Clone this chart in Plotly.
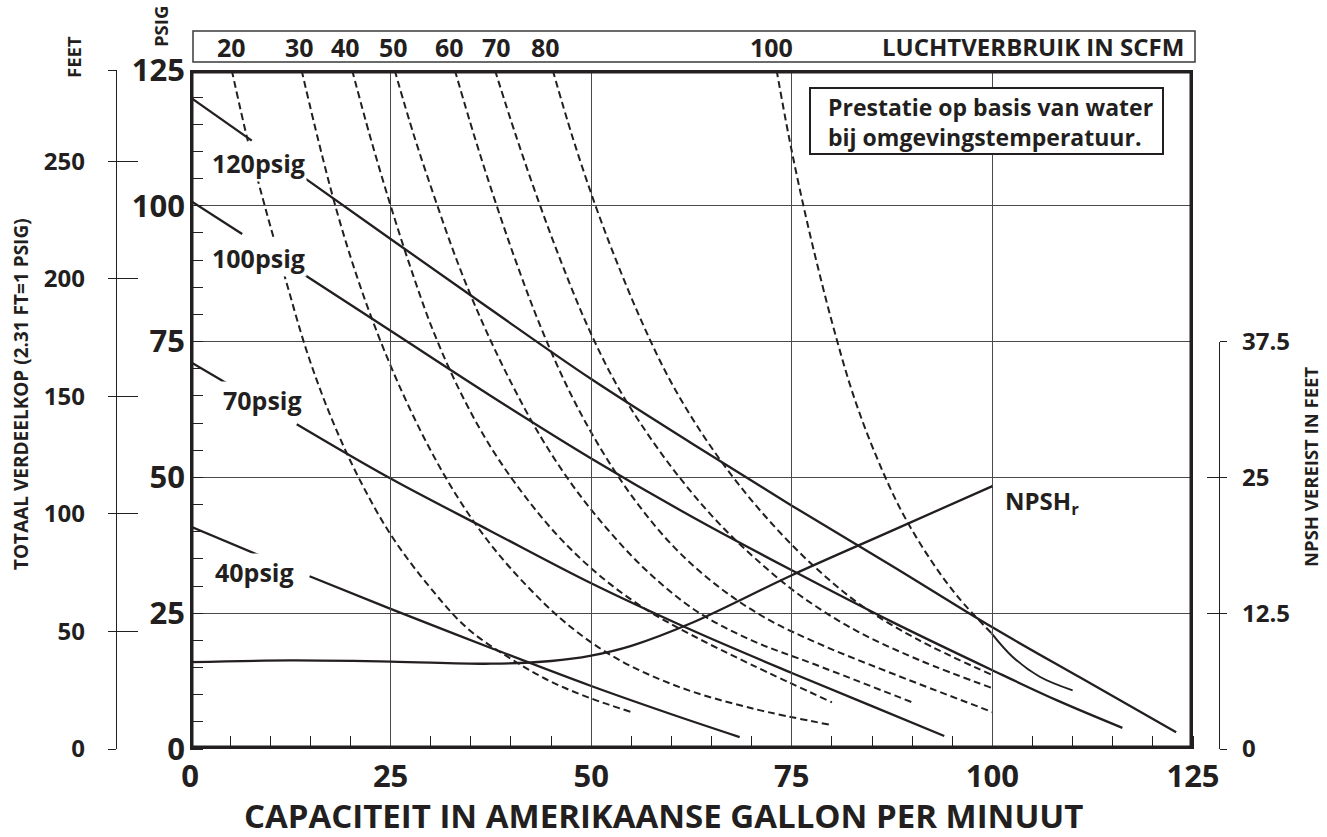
import plotly.graph_objects as go

# ---------------- data ----------------
# Air consumption curves (SCFM), dashed: capacity (GPM) vs head (PSIG)
scfm20_x = [5.2, 7.2, 9.5, 12.0, 14.6, 17.6, 21.0, 25.0, 29.5, 34.5, 40.0, 45.0, 50.0, 55.0]
scfm20_y = [125, 112, 99, 86, 73, 61, 50, 39.5, 30.5, 22.3, 16.6, 12.4, 9.3, 6.8]
scfm30_x = [13.9, 16.0, 18.3, 20.8, 23.5, 26.5, 29.8, 33.5, 37.5, 42.0, 47.0, 53.0, 61.0, 70.0, 80.0]
scfm30_y = [125, 112, 99, 87, 76, 65.5, 55.5, 46, 37.6, 30.0, 23.0, 16.8, 11.4, 7.5, 4.4]
scfm40_x = [20.2, 22.4, 24.8, 27.4, 30.3, 33.6, 37.3, 41.5, 46.0, 51.0, 56.5, 62.5, 70.0, 80.0]
scfm40_y = [125, 113, 101, 89, 77, 66, 56, 47, 39, 32, 26, 21, 15.5, 8.6]
scfm50_x = [25.5, 27.9, 30.6, 33.5, 36.6, 40.0, 43.7, 47.7, 52.0, 57.0, 63.0, 70.0, 78.0, 90.0]
scfm50_y = [125, 113, 101, 89, 78, 67.5, 57.5, 48.5, 40.5, 32.7, 25.5, 20.0, 15.5, 8.6]
scfm60_x = [33.0, 35.4, 38.0, 40.8, 43.9, 47.4, 51.3, 55.6, 60.3, 65.5, 71.5, 78.5, 87.0, 100.0]
scfm60_y = [125, 113, 101, 89, 77, 65.5, 55, 45.5, 37.2, 30.3, 24.3, 19.3, 14.2, 6.8]
scfm70_x = [38.0, 40.6, 43.4, 46.3, 49.5, 53.0, 56.8, 61.0, 65.5, 70.5, 76.0, 83.0, 91.0, 100.0]
scfm70_y = [125, 113, 101, 89.5, 78, 67.5, 58.5, 50, 42.2, 35, 28.3, 21.8, 16.3, 11.2]
scfm80_x = [45.2, 47.6, 50.3, 53.1, 56.2, 59.6, 63.4, 67.6, 72.2, 77.5, 83.6, 90.5, 100.0]
scfm80_y = [125, 113, 101, 90, 79, 68.5, 59, 50.2, 42, 34, 26.5, 20.3, 13.6]
scfm100_x = [73.1, 74.6, 76.3, 78.2, 80.3, 82.7, 85.5, 88.6, 92.0, 95.7, 99.9]
scfm100_y = [125, 113, 101, 89, 77, 65, 54, 44, 35.5, 28, 21.3]
scfm100_tail_x = [99.9, 102.5, 105.9, 110.0]
scfm100_tail_y = [21.3, 17.0, 13.3, 10.8]

# top-box labels and their positions along capacity axis
scfm_labels = ["20", "30", "40", "50", "60", "70", "80", "100"]
scfm_label_x = [5.2, 13.7, 19.4, 25.4, 32.3, 38.2, 44.3, 72.5]

# Pump curves at inlet air pressure (solid); None = gap behind label
psig120_x = [0, 7.7, None, 13.9, 25, 37.5, 50, 62.5, 75, 87.5, 100, 111, 122.9]
psig120_y = [120, 112.0, None, 105.5, 93.9, 80.9, 68.1, 56.3, 44.8, 33.7, 22.4, 13.1, 3.1]
psig100_x = [0, 6.5, None, 13.1, 25, 37.5, 50, 62.5, 75, 87.5, 100, 108, 116.2]
psig100_y = [101, 94.8, None, 88.4, 77.0, 65.0, 53.5, 42.8, 32.9, 23.4, 14.5, 9.0, 3.9]
psig70_x = [0, 6.0, None, 13.3, 25, 37.5, 50, 62.5, 75, 85, 94]
psig70_y = [71.3, 66.1, None, 59.8, 49.8, 40.1, 30.5, 21.9, 14.0, 7.9, 2.4]
psig40_x = [0, 8.7, None, 14.9, 25, 37.5, 50, 60, 68.5]
psig40_y = [41.0, 35.6, None, 31.8, 25.8, 18.6, 11.6, 6.4, 2.2]
psig_labels = ["120psig", "100psig", "70psig", "40psig"]
psig_label_x = [8.5, 8.5, 9.0, 8.1]
psig_label_y = [107.9, 90.4, 64.2, 32.5]

# NPSH required (feet)
npsh_x = [0, 12.5, 25, 37.5, 45, 50, 55, 62.5, 75, 87.5, 100]
npsh_y = [8.0, 8.15, 8.05, 7.85, 8.1, 8.6, 9.5, 11.6, 16.0, 20.1, 24.2]

# axis ticks
x_ticks = [0, 25, 50, 75, 100, 125]
psig_ticks = [0, 25, 50, 75, 100, 125]
feet_ticks = [0, 50, 100, 150, 200, 250]
feet_top = [288.75]
npsh_ticks = [0, 12.5, 25, 37.5]
npsh_ticktext = ["0", "12.5", "25", "37.5"]

# ---------------- styling / layout helpers ----------------
W, H = 1327, 837
ML, MR, MT, MB = 40, 40, 70, 88
PW = W - ML - MR
PH = H - MT - MB
INK = "#231f20"
GRID = "#4a4a4a"
FONT = "Open Sans"


def pxx(x):
    return (x - ML) / PW


def pxy(y):
    return (H - MB - y) / PH


def f(size, weight="bold"):
    return dict(family=FONT, size=size, color=INK, weight=weight)


fig = go.Figure()

dash_curves = [
    (scfm20_x, scfm20_y), (scfm30_x, scfm30_y), (scfm40_x, scfm40_y), (scfm50_x, scfm50_y),
    (scfm60_x, scfm60_y), (scfm70_x, scfm70_y), (scfm80_x, scfm80_y), (scfm100_x, scfm100_y),
]
for cx, cy in dash_curves:
    fig.add_trace(go.Scatter(x=cx, y=cy, mode="lines", xaxis="x", yaxis="y",
                             line=dict(color=INK, width=2, dash="7px,4px", shape="spline", smoothing=1.0),
                             hoverinfo="skip", showlegend=False))

fig.add_trace(go.Scatter(x=scfm100_tail_x, y=scfm100_tail_y, mode="lines",
                         line=dict(color=INK, width=2, shape="spline", smoothing=1.0),
                         hoverinfo="skip", showlegend=False))

for cx, cy in [(psig120_x, psig120_y), (psig100_x, psig100_y), (psig70_x, psig70_y), (psig40_x, psig40_y)]:
    fig.add_trace(go.Scatter(x=cx, y=cy, mode="lines", connectgaps=False,
                             line=dict(color=INK, width=2.3, shape="spline", smoothing=1.0),
                             hoverinfo="skip", showlegend=False))

fig.add_trace(go.Scatter(x=npsh_x, y=npsh_y, mode="lines", xaxis="x", yaxis="y3",
                         line=dict(color=INK, width=2.3, shape="spline", smoothing=1.0),
                         hoverinfo="skip", showlegend=False))

annotations = []
for t, lx, ly in zip(psig_labels, psig_label_x, psig_label_y):
    annotations.append(dict(text=t, x=lx, y=ly, xref="x", yref="y", showarrow=False,
                            xanchor="center", yanchor="middle",
                            font=f(25), bgcolor="white", borderpad=1))

for t, lx in zip(scfm_labels, scfm_label_x):
    annotations.append(dict(text=t, x=lx, y=pxy(47), xref="x", yref="paper", showarrow=False,
                            font=f(25), xanchor="center", yanchor="middle"))


def note(text, x, y, size, angle=0, xanchor="center"):
    return dict(text=text, x=pxx(x), y=pxy(y), xref="paper", yref="paper", showarrow=False,
                xanchor=xanchor, yanchor="middle", textangle=angle, font=f(size))


annotations += [
    note("LUCHTVERBRUIK IN SCFM", 1186, 47, 24, xanchor="right"),
    note("PSIG", 160, 27, 18.5, angle=-90),
    note("FEET", 73, 57, 18.5, angle=-90),
    note("TOTAAL VERDEELKOP (2.31 FT=1 PSIG)", 21, 394, 19, angle=-90),
    note("NPSH VEREIST IN FEET", 1311, 467, 18.5, angle=-90),
    note("CAPACITEIT IN AMERIKAANSE GALLON PER MINUUT", 663, 815, 33),
    note("NPSH<sub>r</sub>", 1003, 502, 24, xanchor="left"),
]
annotations.append(dict(text="Prestatie op basis van water<br>bij omgevingstemperatuur.",
                        x=pxx(826), y=pxy(122), xref="paper", yref="paper", showarrow=False,
                        xanchor="left", yanchor="middle", align="left", font=f(23)))

shapes = [
    dict(type="rect", xref="x", yref="y", x0=0, x1=125, y0=0, y1=125,
         line=dict(color=INK, width=7), layer="above"),
    dict(type="rect", xref="paper", yref="paper", x0=pxx(193), x1=pxx(1195), y0=pxy(62), y1=pxy(31),
         line=dict(color="#3a3a3a", width=1.5), layer="above"),
    dict(type="rect", xref="paper", yref="paper", x0=pxx(810), x1=pxx(1163), y0=pxy(154), y1=pxy(88),
         line=dict(color=INK, width=2), fillcolor="white", layer="above"),
]

minor_common = dict(ticks="inside", tickmode="linear", tick0=0, dtick=5, ticklen=13,
                    tickwidth=1.4, tickcolor=INK, showgrid=False)

fig.update_layout(
    width=W, height=H,
    margin=dict(l=ML, r=MR, t=MT, b=MB),
    paper_bgcolor="white", plot_bgcolor="rgba(0,0,0,0)",
    showlegend=False,
    xaxis=dict(domain=[pxx(190), pxx(1193)], range=[0, 125], anchor="y",
               tickmode="array", tickvals=x_ticks, ticks="", showgrid=True, gridcolor=GRID,
               gridwidth=1.4, zeroline=False, showline=False, tickfont=f(31),
               ticklabelstandoff=6, minor=minor_common),
    yaxis=dict(domain=[0, 1], range=[0, 125], anchor="x",
               tickmode="array", tickvals=psig_ticks, ticks="", showgrid=True, gridcolor=GRID,
               gridwidth=1.4, zeroline=False, showline=False, tickfont=f(31),
               ticklabelstandoff=4, minor=minor_common),
    yaxis2=dict(overlaying="y", anchor="free", position=pxx(116), side="left", range=[0, 288.75],
                tickmode="array", tickvals=feet_ticks, ticks="outside",
                ticklen=8, tickwidth=1.4, tickcolor=INK, showline=True, linecolor=INK, linewidth=1.4,
                showgrid=False, zeroline=False, tickfont=f(24), ticklabelstandoff=18,
                minor=dict(tickvals=feet_top, ticks="outside", ticklen=8, tickwidth=1.4,
                           tickcolor=INK, showgrid=False)),
    yaxis4=dict(overlaying="y", anchor="free", position=pxx(116), side="left", range=[0, 288.75],
                tickmode="array", tickvals=feet_ticks + feet_top, ticks="inside", ticklen=21,
                tickwidth=1.4, tickcolor=INK, showline=False, showgrid=False, zeroline=False,
                showticklabels=False),
    yaxis3=dict(domain=[0, 0.6], anchor="free", position=pxx(1219), side="right", range=[0, 37.5],
                tickmode="array", tickvals=npsh_ticks, ticktext=npsh_ticktext, ticks="outside",
                ticklen=7, tickwidth=1.4, tickcolor=INK, showline=True, linecolor=INK, linewidth=1.4,
                showgrid=False, zeroline=False, tickfont=f(24), ticklabelstandoff=10),
    yaxis5=dict(overlaying="y3", anchor="free", position=pxx(1219), side="right", range=[0, 37.5],
                tickmode="array", tickvals=npsh_ticks, ticks="inside", ticklen=12, tickwidth=1.4,
                tickcolor=INK, showline=False, showgrid=False, zeroline=False, showticklabels=False),
    annotations=annotations,
    shapes=shapes,
)

# invisible traces so the overlay axes are rendered
fig.add_trace(go.Scatter(x=[None], y=[None], yaxis="y2", showlegend=False, hoverinfo="skip"))
fig.add_trace(go.Scatter(x=[None], y=[None], yaxis="y4", showlegend=False, hoverinfo="skip"))
fig.add_trace(go.Scatter(x=[None], y=[None], yaxis="y5", showlegend=False, hoverinfo="skip"))

fig.write_html("out.html", config={"displayModeBar": False},
               post_script="document.body.style.margin='0px';")
